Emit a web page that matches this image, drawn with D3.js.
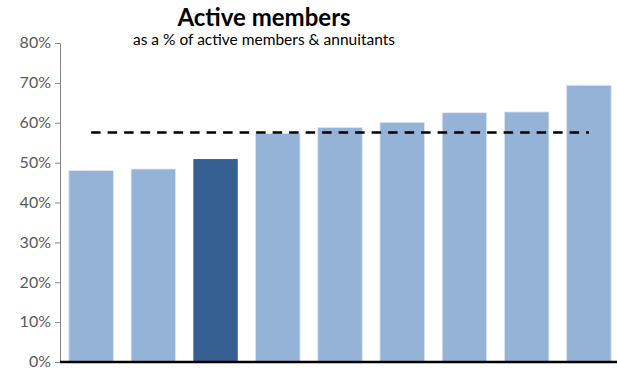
<!DOCTYPE html>
<html>
<head>
<meta charset="utf-8">
<script src="https://cdn.jsdelivr.net/npm/d3@7"></script>
<style>
  html, body { margin: 0; padding: 0; background: #fff; }
  svg { display: block; }
</style>
</head>
<body>
<svg id="chart" width="617" height="370"></svg>
<script>
// Share of active members among active members & annuitants, per plan
const categories = ["A", "B", "C", "D", "E", "F", "G", "H", "I"];
const values = [48.0, 48.4, 50.9, 57.3, 58.8, 60.1, 62.5, 62.7, 69.4];
const highlighted = ["C"];
const yTicks = [0, 10, 20, 30, 40, 50, 60, 70, 80];

const width = 617, height = 370;
const margin = { top: 43, right: -3, bottom: 8, left: 60 };

const svg = d3.select("#chart");
const font = "Lato, 'Open Sans', sans-serif";

const x = d3.scaleBand()
  .domain(categories)
  .range([margin.left, width - margin.right])
  .paddingInner(0.285)
  .paddingOuter(0.1425);

const y = d3.scaleLinear()
  .domain([0, 80])
  .range([height - margin.bottom, margin.top]);

// Bars
svg.append("g")
  .selectAll("rect")
  .data(categories.map((c, i) => ({ c, v: values[i] })))
  .join("rect")
  .attr("x", d => x(d.c))
  .attr("y", d => y(d.v))
  .attr("width", x.bandwidth())
  .attr("height", d => y(0) - y(d.v))
  .attr("fill", d => highlighted.includes(d.c) ? "#366092" : "#95b3d7")
  .attr("stroke", d => highlighted.includes(d.c) ? "none" : "#dce6f1")
  .attr("stroke-width", 0.8);

// Average line, from first to last bar centre
const avg = d3.mean(values);
svg.append("line")
  .attr("x1", x(categories[0]) + x.bandwidth() / 2)
  .attr("x2", x(categories[categories.length - 1]) + x.bandwidth() / 2)
  .attr("y1", y(avg))
  .attr("y2", y(avg))
  .attr("stroke", "#000")
  .attr("stroke-width", 2.5)
  .attr("stroke-dasharray", "9.5,7");

// Y axis
const yAxis = svg.append("g")
  .attr("transform", `translate(${margin.left},0)`)
  .call(d3.axisLeft(y).tickValues(yTicks).tickFormat(d => d + "%").tickSize(5).tickSizeOuter(0));
yAxis.select(".domain").attr("stroke", "#868686");
yAxis.selectAll(".tick line").attr("stroke", "#868686");
yAxis.selectAll(".tick text")
  .attr("fill", "#595959")
  .attr("font-family", font)
  .attr("font-size", 16)
  .attr("x", -9)
  .attr("dy", "0.3em");

// Category baseline
svg.append("line")
  .attr("x1", margin.left)
  .attr("x2", width)
  .attr("y1", y(0))
  .attr("y2", y(0))
  .attr("stroke", "#000")
  .attr("stroke-width", 2.5);

// Titles
svg.append("text")
  .attr("x", 264)
  .attr("y", 26)
  .attr("text-anchor", "middle")
  .attr("font-family", font)
  .attr("font-weight", "bold")
  .attr("font-size", 24)
  .attr("fill", "#000")
  .text("Active members");

svg.append("text")
  .attr("x", 264)
  .attr("y", 45)
  .attr("text-anchor", "middle")
  .attr("font-family", font)
  .attr("font-size", 15.5)
  .attr("fill", "#000")
  .text("as a % of active members & annuitants");
</script>
</body>
</html>
